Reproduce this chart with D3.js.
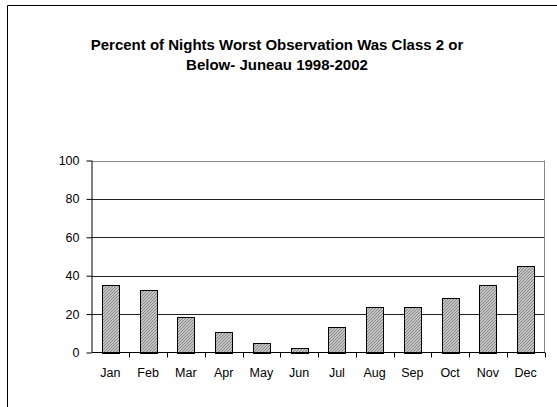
<!DOCTYPE html>
<html><head><meta charset="utf-8">
<script src="https://cdn.jsdelivr.net/npm/d3@7"></script>
<style>body{margin:0;background:#fff}svg{display:block}</style>
</head><body>
<script>
const months = ["Jan","Feb","Mar","Apr","May","Jun","Jul","Aug","Sep","Oct","Nov","Dec"];
const percents = [35.4, 32.5, 18.4, 10.6, 5.2, 2.4, 13.2, 23.6, 23.6, 28.5, 35.2, 45.2];
const yTicks = [0, 20, 40, 60, 80, 100];
const titleLines = ["Percent of Nights Worst Observation Was Class 2 or", "Below- Juneau 1998-2002"];

(function () {
const W = 557, H = 407;
const svg = d3.select("body").append("svg").attr("width", W).attr("height", H);
const font = "Liberation Sans, Arial, sans-serif";

// outer chart border (left and top visible)
svg.append("path").attr("d", `M7.5,${H}V5.5H${W}`).attr("fill","none").attr("stroke","#000").attr("stroke-width",1);

const defs = svg.append("defs");
const pat = defs.append("pattern").attr("id","hatch").attr("patternUnits","userSpaceOnUse")
  .attr("width",3).attr("height",3);
pat.append("rect").attr("width",3).attr("height",3).attr("fill","#c4c4c4");
pat.append("path").attr("d","M-1,1 l2,-2 M0,3 l3,-3 M2,4 l2,-2").attr("stroke","#808080").attr("stroke-width",0.9);

const pLeft = 91.5, pRight = 544.5, pTop = 160.5, pBottom = 352.5;
const x = d3.scaleBand().domain(months).range([pLeft, pRight]).paddingInner(0.55).paddingOuter(0.275);
const xb = d3.scaleBand().domain(months).range([pLeft, pRight]);
const y = d3.scaleLinear().domain([0, 100]).range([pBottom, pTop]);

// gridlines
svg.append("g").selectAll("line").data(yTicks.filter(d => d > 0)).join("line")
  .attr("x1", pLeft).attr("x2", pRight).attr("y1", d => Math.round(y(d)) + 0.5).attr("y2", d => Math.round(y(d)) + 0.5)
  .attr("stroke", d => d === 100 ? "#888" : "#222").attr("stroke-width", 1);
// plot right border
svg.append("line").attr("x1", pRight).attr("x2", pRight).attr("y1", pTop).attr("y2", pBottom).attr("stroke","#888");

// bars
svg.append("g").selectAll("rect").data(percents).join("rect")
  .attr("x", (d,i) => Math.round(x(months[i])) + 0.5)
  .attr("y", d => Math.round(y(d)) + 0.5)
  .attr("width", Math.round(x.bandwidth()))
  .attr("height", d => Math.round(y(0)) - Math.round(y(d)))
  .attr("fill","url(#hatch)").attr("stroke","#000").attr("stroke-width",1);

// y axis
const ya = svg.append("g").attr("transform", `translate(${pLeft},0)`)
  .call(d3.axisLeft(y).tickValues(yTicks).tickSize(5).tickPadding(7));
ya.selectAll("text").attr("font-family", font).attr("font-size", 12.5).attr("fill","#000");
ya.selectAll("line,path").attr("stroke","#000");
ya.select(".domain").attr("d", `M0.5,${pBottom}V${pTop}`);

// x axis
const xa = svg.append("g").attr("transform", `translate(0,${pBottom})`);
xa.append("line").attr("x1", pLeft).attr("x2", pRight + 0.5).attr("y1", 0).attr("y2", 0).attr("stroke","#000");
xa.selectAll("line.tk").data(months).join("line").attr("class","tk")
  .attr("x1", d => Math.round(xb(d) + xb.bandwidth()) + 0.5).attr("x2", d => Math.round(xb(d) + xb.bandwidth()) + 0.5)
  .attr("y1", 0).attr("y2", 5).attr("stroke","#000");
xa.selectAll("text").data(months).join("text")
  .attr("x", d => xb(d) + xb.bandwidth() / 2).attr("y", 24.5)
  .attr("text-anchor","middle").attr("font-family", font).attr("font-size", 12.5).text(d => d);

// title
svg.append("g").selectAll("text").data(titleLines).join("text")
  .attr("x", 277).attr("y", (d,i) => 50 + i * 19.5)
  .attr("text-anchor","middle").attr("font-family", font).attr("font-weight","bold").attr("font-size", 15)
  .text(d => d);
})();
</script>
</body></html>
